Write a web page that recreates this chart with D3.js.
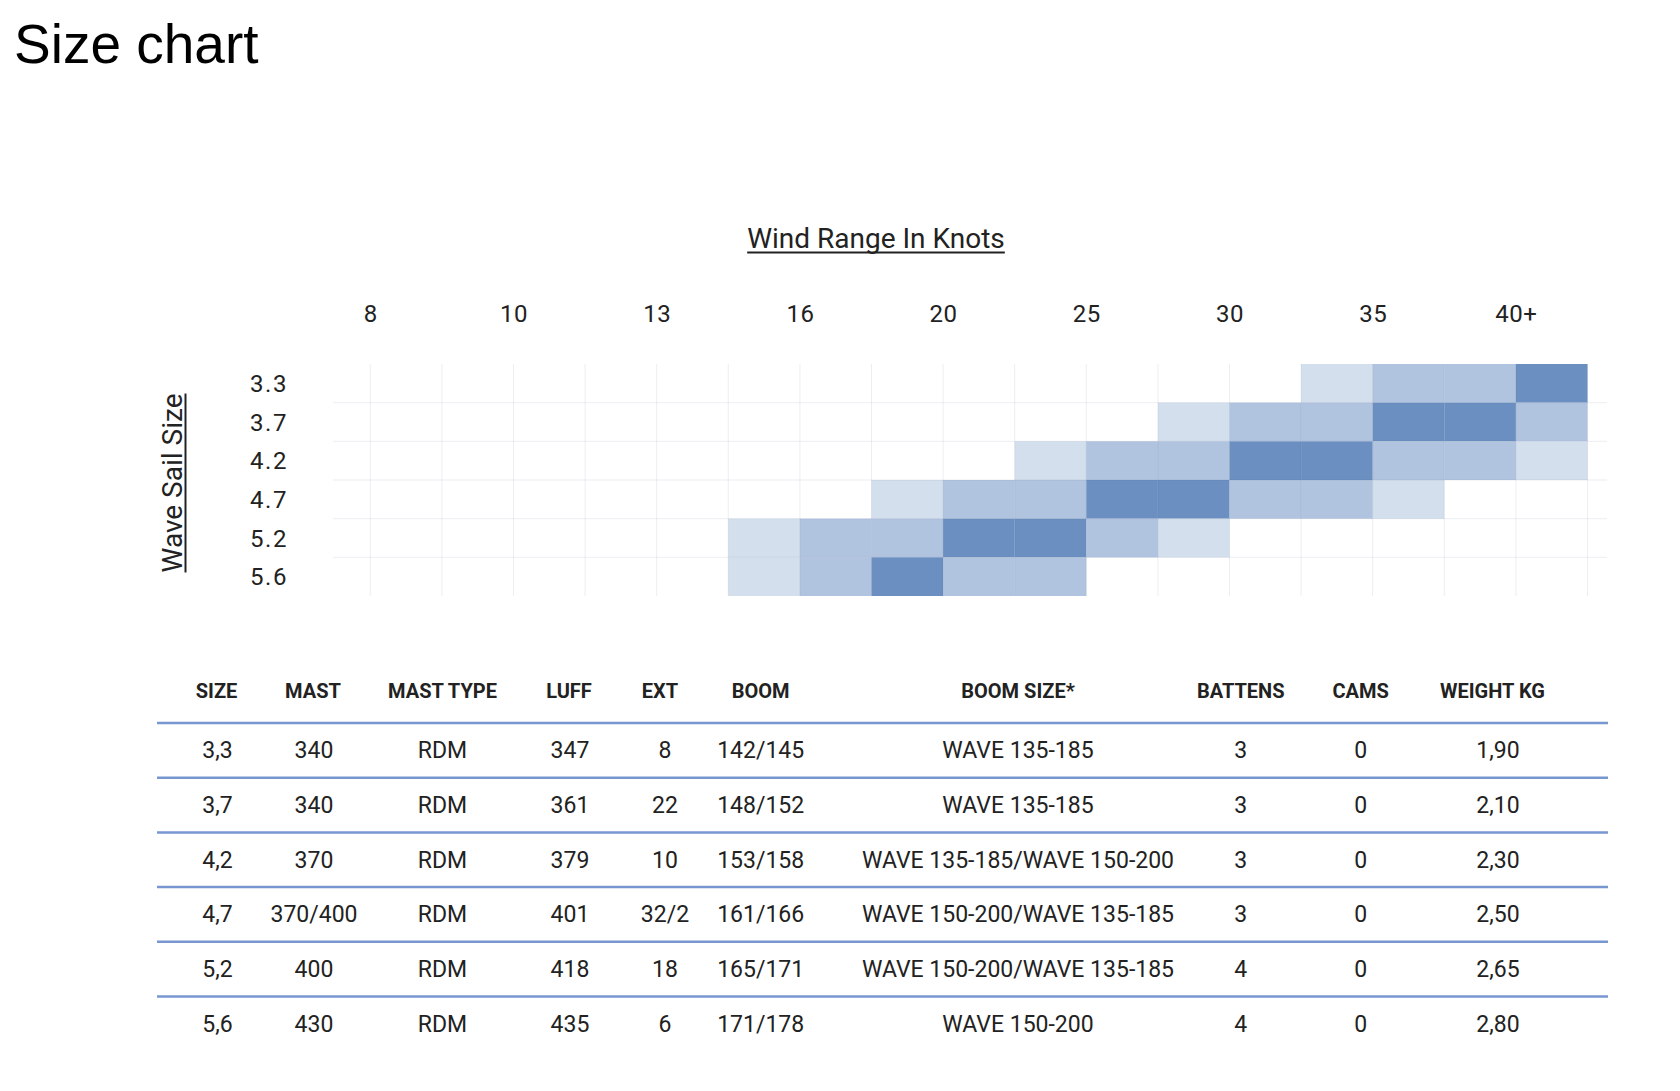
<!DOCTYPE html>
<html>
<head>
<meta charset="utf-8">
<script src="https://cdn.jsdelivr.net/npm/d3@7/dist/d3.min.js"></script>
<style>
  html, body { margin: 0; padding: 0; background: #fff; }
  svg { display: block; }
</style>
</head>
<body>
<svg id="chart" width="1680" height="1091"></svg>
<script>
// ---------- DATA ----------
const pageTitle = "Size chart";
const windTitle = "Wind Range In Knots";
const sailTitle = "Wave Sail Size";
const windLabels = ["8", "10", "13", "16", "20", "25", "30", "35", "40+"];
const sailSizes = ["3.3", "3.7", "4.2", "4.7", "5.2", "5.6"];
// intensity per sail size across 17 wind columns (0 none, 1 light, 2 medium, 3 best)
const range33 = [0,0,0,0,0,0,0,0,0,0,0,0,0,1,2,2,3];
const range37 = [0,0,0,0,0,0,0,0,0,0,0,1,2,2,3,3,2];
const range42 = [0,0,0,0,0,0,0,0,0,1,2,2,3,3,2,2,1];
const range47 = [0,0,0,0,0,0,0,1,2,2,3,3,2,2,1,0,0];
const range52 = [0,0,0,0,0,1,2,2,3,3,2,1,0,0,0,0,0];
const range56 = [0,0,0,0,0,1,2,3,2,2,0,0,0,0,0,0,0];
const intensityLevels = [1, 2, 3];

const tableHeaders = ["SIZE","MAST","MAST TYPE","LUFF","EXT","BOOM","BOOM SIZE*","BATTENS","CAMS","WEIGHT KG"];
const colSize = ["3,3","3,7","4,2","4,7","5,2","5,6"];
const colMast = ["340","340","370","370/400","400","430"];
const colMastType = ["RDM","RDM","RDM","RDM","RDM","RDM"];
const colLuff = ["347","361","379","401","418","435"];
const colExt = ["8","22","10","32/2","18","6"];
const colBoom = ["142/145","148/152","153/158","161/166","165/171","171/178"];
const colBoomSize = ["WAVE 135-185","WAVE 135-185","WAVE 135-185/WAVE 150-200","WAVE 150-200/WAVE 135-185","WAVE 150-200/WAVE 135-185","WAVE 150-200"];
const colBattens = ["3","3","3","3","4","4"];
const colCams = ["0","0","0","0","0","0"];
const colWeight = ["1,90","2,10","2,30","2,50","2,65","2,80"];

// ---------- LAYOUT / STYLE ----------
const FONT = "Roboto, 'DejaVu Sans', sans-serif";
const TXT = "#222";
const cellColors = ["#d4dfed", "#b0c3df", "#6b8fc0"];
const headerX = [216.5, 313, 442.5, 569, 660, 760.7, 1018, 1240.7, 1360.7, 1492.5];
const valueX  = [217.5, 314, 442.5, 570, 665, 760.7, 1018, 1240.7, 1360.7, 1498];

const svg = d3.select("#chart");

// page title
svg.append("text")
  .attr("x", 14).attr("y", 63)
  .attr("font-family", "'Liberation Sans', Arial, Helvetica, sans-serif")
  .attr("font-size", 55).attr("fill", "#000")
  .text(pageTitle);

// ---------- HEATMAP ----------
const rows = [range33, range37, range42, range47, range52, range56];
const nCols = range33.length;
const x = d3.scaleLinear().domain([0, nCols]).range([370.3, 1587.5]);
const y = d3.scaleBand().domain(sailSizes).range([364, 596]).paddingInner(0).paddingOuter(0);
const color = d3.scaleOrdinal().domain(intensityLevels).range(cellColors);

const cells = [];
rows.forEach((r, ri) => r.forEach((v, ci) => { if (v > 0) cells.push({ size: sailSizes[ri], col: ci, v }); }));

svg.append("g").selectAll("rect").data(cells).join("rect")
  .attr("x", d => x(d.col))
  .attr("y", d => y(d.size))
  .attr("width", d => x(d.col + 1) - x(d.col))
  .attr("height", y.bandwidth())
  .attr("fill", d => color(d.v));

// grid
const grid = svg.append("g").attr("stroke", "rgba(70,90,130,0.10)").attr("stroke-width", 1);
grid.selectAll("line.v").data(d3.range(nCols + 1)).join("line").attr("class", "v")
  .attr("x1", d => x(d)).attr("x2", d => x(d))
  .attr("y1", y.range()[0]).attr("y2", y.range()[1]);
grid.selectAll("line.h").data(sailSizes.slice(1)).join("line").attr("class", "h")
  .attr("x1", 333).attr("x2", 1607)
  .attr("y1", d => y(d)).attr("y2", d => y(d));

// top axis (wind labels)
const xAxis = d3.axisTop(x)
  .tickValues(windLabels.map((_, i) => i * 2))
  .tickFormat((d, i) => windLabels[i])
  .tickSize(0).tickPadding(0);
const gx = svg.append("g").attr("transform", "translate(0,322)").call(xAxis);
gx.select(".domain").remove();
gx.selectAll("text").attr("font-family", FONT).attr("font-size", 24)
  .attr("fill", TXT).attr("dy", 0).attr("text-anchor", "middle").attr("font-weight", 400)
  .attr("letter-spacing", 0.5);

// left axis (sail sizes)
const yAxis = d3.axisLeft(y).tickSize(0).tickPadding(0);
const gy = svg.append("g").attr("transform", "translate(269,1)").call(yAxis);
gy.select(".domain").remove();
gy.selectAll("text").attr("font-family", FONT).attr("font-size", 24)
  .attr("fill", TXT).attr("text-anchor", "middle").attr("x", 0).attr("font-weight", 400)
  .attr("letter-spacing", 1.5);

// titles with underline
const wt = svg.append("text")
  .attr("x", 876).attr("y", 248).attr("text-anchor", "middle")
  .attr("font-family", FONT).attr("font-size", 28).attr("font-weight", 400).attr("fill", TXT)
  .text(windTitle);
const wl = wt.node().getComputedTextLength();
svg.append("line").attr("x1", 876 - wl / 2).attr("x2", 876 + wl / 2)
  .attr("y1", 252.5).attr("y2", 252.5).attr("stroke", TXT).attr("stroke-width", 2);

const sg = svg.append("g").attr("transform", "translate(182,483) rotate(-90)");
const st = sg.append("text").attr("x", 0).attr("y", 0).attr("text-anchor", "middle")
  .attr("font-family", FONT).attr("font-size", 28).attr("font-weight", 400).attr("fill", TXT)
  .text(sailTitle);
const sl = st.node().getComputedTextLength();
sg.append("line").attr("x1", -sl / 2).attr("x2", sl / 2)
  .attr("y1", 3.5).attr("y2", 3.5).attr("stroke", TXT).attr("stroke-width", 2);

// ---------- TABLE ----------
const columns = [colSize, colMast, colMastType, colLuff, colExt, colBoom, colBoomSize, colBattens, colCams, colWeight];
const rowY = d3.scaleLinear().domain([0, 1]).range([723, 777.7]);

svg.append("g").selectAll("text").data(tableHeaders).join("text")
  .attr("x", (d, i) => headerX[i]).attr("y", 698)
  .attr("text-anchor", "middle")
  .attr("font-family", FONT).attr("font-size", 20).attr("font-weight", 700).attr("fill", TXT)
  .text(d => d);

svg.append("g").selectAll("line").data(colSize).join("line")
  .attr("x1", 157).attr("x2", 1608)
  .attr("y1", (d, i) => rowY(i)).attr("y2", (d, i) => rowY(i))
  .attr("stroke", "#7896d0").attr("stroke-width", 2.5);

const body = svg.append("g");
columns.forEach((col, ci) => {
  body.selectAll("text.c" + ci).data(col).join("text").attr("class", "c" + ci)
    .attr("x", valueX[ci]).attr("y", (d, i) => rowY(i) + 35.3)
    .attr("text-anchor", "middle")
    .attr("font-family", FONT).attr("font-size", 23).attr("fill", TXT)
    .text(d => d);
});
</script>
</body>
</html>
